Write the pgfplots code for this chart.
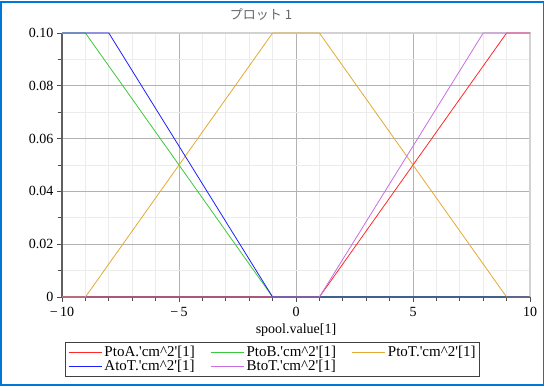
\documentclass[border=0pt]{standalone}
\usepackage{fontspec}
\setmainfont{Liberation Serif}
\newfontfamily\jp{Noto Sans CJK JP}
\usepackage{pgfplots}
\pgfplotsset{compat=1.18}
\definecolor{cRed}{RGB}{255,40,40}
\definecolor{cGreen}{RGB}{60,200,60}
\definecolor{cOrange}{RGB}{225,170,50}
\definecolor{cBlue}{RGB}{30,30,255}
\definecolor{cViolet}{RGB}{200,110,225}
\definecolor{frameblue}{RGB}{0,120,215}
\newcommand{\lbl}[1]{\fontsize{15}{15}\selectfont #1.\textquotesingle cm\textasciicircum 2\textquotesingle[1]}
\begin{document}
\begin{tikzpicture}[x=1pt,y=1pt]
\path[use as bounding box] (0,0) rectangle (547,387);
\begin{axis}[
  at={(62pt,90pt)}, anchor=south west,
  scale only axis, width=468pt, height=264pt,
  xmin=-10, xmax=10, ymin=0, ymax=0.1,
  clip=false,
  axis x line*=bottom, axis y line*=left,
  axis line style={draw=gray!75!black, line width=1.6pt},
  xtick={-10,-5,0,5,10},
  xticklabels={\textrm{−\,10},\textrm{−\,5},\textrm{0},\textrm{5},\textrm{10}},
  ytick={0,0.02,0.04,0.06,0.08,0.1},
  yticklabels={\textrm{0},\textrm{0.02},\textrm{0.04},\textrm{0.06},\textrm{0.08},\textrm{0.10}},
  minor x tick num=4, minor y tick num=1,
  tick align=outside,
  major tick length=5pt, minor tick length=4pt,
  every tick/.style={draw=gray!60!black, line width=0.9pt},
  grid=both,
  major grid style={draw=gray!60, line width=0.9pt},
  minor grid style={draw=gray!15, line width=0.9pt},
  ticklabel style={font=\fontsize{14}{16}\selectfont},
  xticklabel style={yshift=-1.5pt},
  /pgf/number format/assume math mode=true,
  xlabel={spool.value[1]},
  xlabel style={font=\fontsize{14}{16}\selectfont, yshift=0pt},
  legend columns=3,
  legend style={at={(0.0064,-0.17)}, anchor=north west,
    draw=black!75, line width=1.4pt,
    font=\fontsize{15}{15}\selectfont,
    /tikz/every even column/.append style={column sep=13pt},
    row sep=-2pt, inner sep=2pt},
  legend cell align=left,
  legend image code/.code={\draw[#1, line width=1.8pt] (0pt,0pt) -- (33pt,0pt);},
]
\draw[gray!35, line width=1.6pt] (rel axis cs:0,1) -- (rel axis cs:1,1) -- (rel axis cs:1,0);
\addplot[cRed, line width=0.8pt] coordinates {(-10,0) (1,0) (9,0.1) (10,0.1)};
\addlegendentry{\lbl{PtoA}}
\addplot[cGreen, line width=0.8pt] coordinates {(-10,0.1) (-9,0.1) (-1,0) (10,0)};
\addlegendentry{\lbl{PtoB}}
\addplot[cOrange, line width=0.8pt] coordinates {(-10,0) (-9,0) (-1,0.1) (1,0.1) (9,0) (10,0)};
\addlegendentry{\lbl{PtoT}}
\addplot[cBlue, line width=0.8pt] coordinates {(-10,0.1) (-8,0.1) (-1,0) (10,0)};
\addlegendentry{\lbl{AtoT}}
\addplot[cViolet, line width=0.8pt] coordinates {(-10,0) (1,0) (8,0.1) (10,0.1)};
\addlegendentry{\lbl{BtoT}}
\end{axis}
\node[text=black!60, font=\jp\fontsize{13}{15}\selectfont] at (261,372) {プロット 1};
\draw[frameblue, line width=1.5pt] (0.75,2) rectangle (543.5,385);
\end{tikzpicture}
\end{document}
